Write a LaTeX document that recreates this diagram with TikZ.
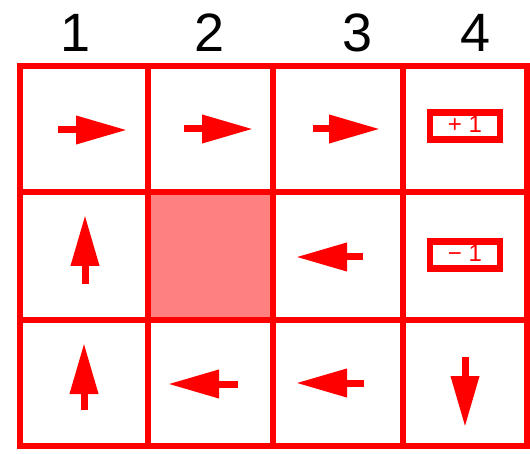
\documentclass[tikz,border=0pt]{standalone}
\usepackage{fontspec}
\setmainfont{Liberation Sans}
\usetikzlibrary{arrows.meta}

\begin{document}
\begin{tikzpicture}[x=1pt, y=-1pt,
    grid/.style={red, line width=6pt},
    move/.style={red, line width=7pt, -{Triangle[length=51pt, width=27pt]}},
    reward/.style={draw=red, line width=6.5pt, text=red, minimum width=70pt, minimum height=27pt, inner sep=0pt, text depth=4pt, font=\fontsize{24}{24}\selectfont},
    colnum/.style={font=\fontsize{54}{54}\selectfont}]
  \useasboundingbox (0,0) rectangle (530,454);
  % wall cell
  \fill[red!50] (148,192) rectangle (273,320);
  % grid
  \draw[grid] (20,66) rectangle (527,446);
  \foreach \x in {148,273,403} \draw[grid] (\x,66) -- (\x,446);
  \foreach \y in {192,320} \draw[grid] (20,\y) -- (527,\y);
  % column numbers
  \foreach \x/\n in {76/1,210/2,358/3,476/4} \node[colnum] (col\n) at (\x,33) {\n};
  % terminal cells
  \node[reward] (win) at (465,126) {+ 1};
  \node[reward] (lose) at (465,255) {− 1};
  % policy
  \foreach \xa/\ya/\xb/\yb in {58/130/127/130, 184/129/253/129, 313/129/380/129,
      85/284/85/215, 363/257/296/257,
      84/410/84/343, 238/384/168/384, 364/383/296/383, 465/357/465/427}
    \draw[move] (\xa,\ya) -- (\xb,\yb);
\end{tikzpicture}
\end{document}
